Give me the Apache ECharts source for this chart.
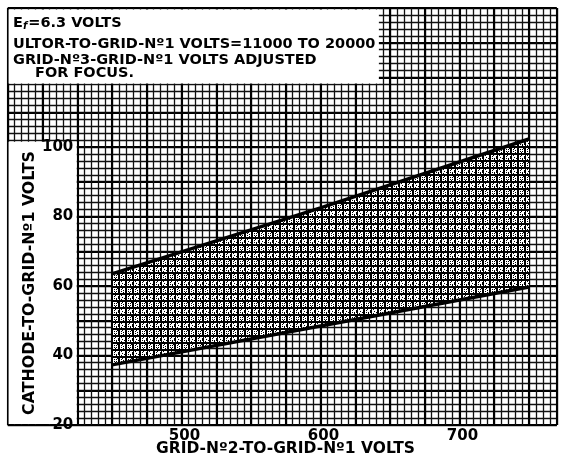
<!DOCTYPE html>
<html><head><meta charset="utf-8">
<script src="https://cdn.jsdelivr.net/npm/echarts@6/dist/echarts.min.js"></script>
<style>html,body{margin:0;padding:0;background:#fff}#c{width:562px;height:456px}</style>
</head><body><div id="c"></div>
<script>
// ---- data ----
const gridNo2Volts = [450, 600, 750];           // x of the shaded band
const upperCathodeVolts = [63.5, 82.5, 102.3];  // upper boundary
const lowerCathodeVolts = [37.3, 48.5, 59.7];   // lower boundary
const xTickLabels = [500, 600, 700];
const yTickLabels = [20, 40, 60, 80, 100];
const titleLine2 = 'ULTOR-TO-GRID-N\u00BA1 VOLTS=11000 TO 20000';
const titleLine3 = 'GRID-N\u00BA3-GRID-N\u00BA1 VOLTS ADJUSTED';
const titleLine4 = 'FOR FOCUS.';
const xName = 'GRID-N\u00BA2-TO-GRID-N\u00BA1 VOLTS';
const yName = 'CATHODE-TO-GRID-N\u00BA1 VOLTS';

function makePattern() {
  const glyphs = [
    ['.......','.##.###','.#.###.','.#####.','.#.#.#.','.###.##','.......'],
    ['.......','.#.###.','.#####.','.##.##.','.####..','.#.###.','.......'],
    ['.......','.####..','.#.#.#.','.#####.','.#.#.#.','.##.##.','.......'],
    ['.......','.##.##.','.#.###.','.###.#.','.#.###.','.###.#.','.......']
  ];
  const c = document.createElement('canvas');
  c.width = 14; c.height = 14;
  const g = c.getContext('2d');
  g.fillStyle = '#000'; g.fillRect(0, 0, 14, 14);
  g.fillStyle = '#fff';
  const offs = [[0,0],[7,0],[0,7],[7,7]];
  glyphs.forEach((gl, k) => {
    gl.forEach((row, r) => {
      for (let col = 0; col < row.length; col++) {
        if (row[col] === '#') g.fillRect(offs[k][0] + col, offs[k][1] + r, 1, 1);
      }
    });
  });
  return c;
}
const pattern = { image: makePattern(), repeat: 'repeat' };

const chart = echarts.init(document.getElementById('c'), null, { renderer: 'canvas' });
const FONT = '"DejaVu Sans", sans-serif';
const gridBox = { top: 8, bottom: 31, right: 5.2 };

const option = {
  animation: false,
  backgroundColor: '#fff',
  grid: [
    Object.assign({ left: 7.75 }, gridBox),
    Object.assign({ left: 77.25 }, gridBox)
  ],
  xAxis: [
    { type: 'value', gridIndex: 0, min: 375, max: 770, interval: 5,
      axisLine: { show: false }, axisTick: { show: false }, axisLabel: { show: false },
      splitLine: { show: true, lineStyle: { color: '#111', width: 1.3 } } },
    { type: 'value', gridIndex: 0, min: 375, max: 770, interval: 25,
      axisLine: { show: false }, axisTick: { show: false }, axisLabel: { show: false },
      splitLine: { show: true, lineStyle: { color: '#000', width: 2.1 } } },
    { type: 'value', gridIndex: 1, min: 425, max: 770, interval: 25, z: 10,
      axisLine: { show: false }, axisTick: { show: false }, splitLine: { show: false },
      axisLabel: { show: true, margin: 4, color: '#000', fontFamily: FONT, fontWeight: 'bold', fontSize: 15,
        padding: [0, 0, 0, 6],
        formatter: v => xTickLabels.indexOf(v) >= 0 ? String(v) : '' } }
  ],
  yAxis: [
    { type: 'value', gridIndex: 0, min: 20, max: 140, interval: 2,
      axisLine: { show: false }, axisTick: { show: false }, axisLabel: { show: false },
      splitLine: { show: true, lineStyle: { color: '#111', width: 1.3 } } },
    { type: 'value', gridIndex: 0, min: 20, max: 140, interval: 10,
      axisLine: { show: false }, axisTick: { show: false }, axisLabel: { show: false },
      splitLine: { show: true, lineStyle: { color: '#000', width: 2.1 } } },
    { type: 'value', gridIndex: 1, min: 20, max: 140, interval: 20, z: 10,
      axisLine: { show: false }, axisTick: { show: false }, splitLine: { show: false },
      axisLabel: { show: true, margin: 4, color: '#000', fontFamily: FONT, fontWeight: 'bold', fontSize: 15,
        formatter: v => yTickLabels.indexOf(v) >= 0 ? String(v) : '' } }
  ],
  series: [
    { type: 'custom', xAxisIndex: 0, yAxisIndex: 0, z: 2, silent: true,
      data: [[gridNo2Volts[0], lowerCathodeVolts[0]]],
      renderItem: function (params, api) {
        const pts = [];
        for (let i = 0; i < gridNo2Volts.length; i++) pts.push(api.coord([gridNo2Volts[i], upperCathodeVolts[i]]));
        for (let i = gridNo2Volts.length - 1; i >= 0; i--) pts.push(api.coord([gridNo2Volts[i], lowerCathodeVolts[i]]));
        return { type: 'polygon', shape: { points: pts }, style: { fill: pattern, stroke: null } };
      } },
    { type: 'line', xAxisIndex: 0, yAxisIndex: 0, z: 3, symbol: 'none', silent: true,
      data: gridNo2Volts.map((x, i) => [x, upperCathodeVolts[i]]),
      lineStyle: { color: '#000', width: 3.5 } },
    { type: 'line', xAxisIndex: 0, yAxisIndex: 0, z: 3, symbol: 'none', silent: true,
      data: gridNo2Volts.map((x, i) => [x, lowerCathodeVolts[i]]),
      lineStyle: { color: '#000', width: 3.5 },
      markArea: { silent: true, itemStyle: { color: '#fff', opacity: 1, borderWidth: 0 },
        data: [
          [{ xAxis: 375.6, yAxis: 118.3 }, { xAxis: 642, yAxis: 139.6 }],
          [{ xAxis: 375.6, yAxis: 20.3 }, { xAxis: 424.6, yAxis: 101.5 }]
        ] } }
  ],
  graphic: [
    { type: 'text', x: 13, y: 23.5, z: 100, style: {
        text: '{a|E}{s|f}{a|=6.3 VOLTS}', textVerticalAlign: 'middle', verticalAlign: 'middle',
        rich: { a: { fontFamily: FONT, fontWeight: 'bold', fontSize: 14.5, fill: '#000' },
                s: { fontFamily: FONT, fontWeight: 'bold', fontStyle: 'italic', fontSize: 10, fill: '#000', padding: [5, 1, 0, 0] } } } },
    { type: 'text', x: 13, y: 44.5, z: 100, style: { text: titleLine2, font: 'bold 14.5px ' + FONT, fill: '#000', textVerticalAlign: 'middle', verticalAlign: 'middle' } },
    { type: 'text', x: 13, y: 60.5, z: 100, style: { text: titleLine3, font: 'bold 14.5px ' + FONT, fill: '#000', textVerticalAlign: 'middle', verticalAlign: 'middle' } },
    { type: 'text', x: 35, y: 73, z: 100, style: { text: titleLine4, font: 'bold 14.5px ' + FONT, fill: '#000', textVerticalAlign: 'middle', verticalAlign: 'middle' } },
    { type: 'text', x: 285.5, y: 449, z: 100, style: { text: xName, font: 'bold 15.5px ' + FONT, fill: '#000', textAlign: 'center', align: 'center', textVerticalAlign: 'middle', verticalAlign: 'middle' } },
    { type: 'text', x: 30, y: 283, rotation: Math.PI / 2, z: 100, style: { text: yName, font: 'bold 15.8px ' + FONT, fill: '#000', textAlign: 'center', align: 'center', textVerticalAlign: 'middle', verticalAlign: 'middle' } }
  ]
};
chart.setOption(option);
</script>
</body></html>
